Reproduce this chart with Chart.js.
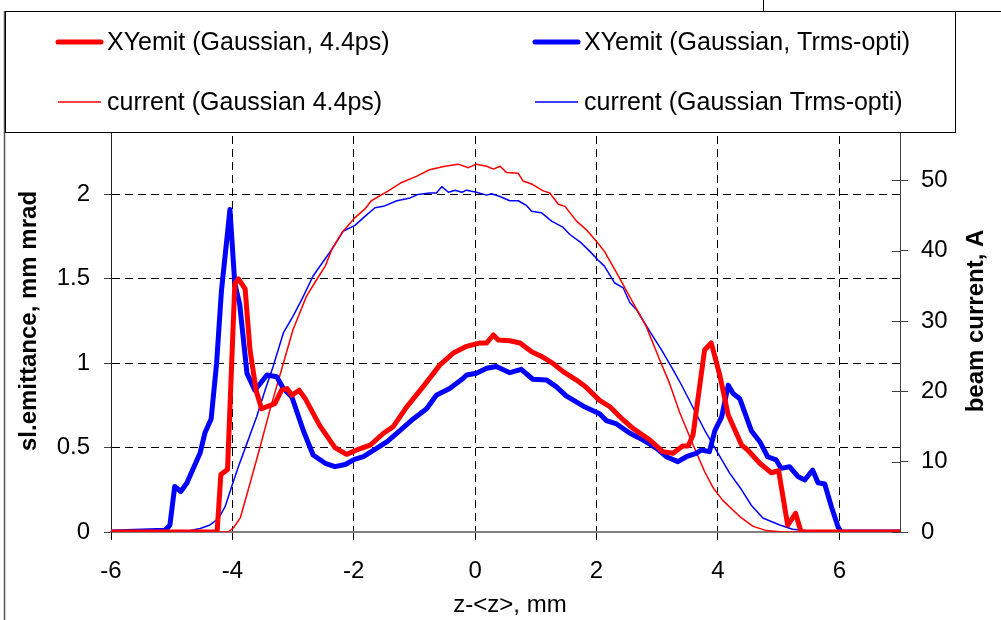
<!DOCTYPE html>
<html>
<head>
<meta charset="utf-8">
<script src="https://cdn.jsdelivr.net/npm/chart.js@4.4.0/dist/chart.umd.min.js"></script>
<style>
  html, body { margin: 0; padding: 0; background: #fff; }
  #wrap { position: relative; width: 1001px; height: 620px; }
</style>
</head>
<body>
<div id="wrap"><canvas id="emit-chart" width="1001" height="620"></canvas></div>
<script>
// slice emittance (mm mrad) vs z-<z> (mm), two laser profiles
const zEmitRed = [-6, -4.28, -4.25, -4.19, -4.08, -3.96, -3.90, -3.79, -3.71, -3.61, -3.52, -3.30, -3.19, -3.10, -3.02, -2.90, -2.80, -2.56, -2.31, -2.12, -1.95, -1.73, -1.51, -1.35, -1.13, -0.86, -0.58, -0.36, -0.14, 0.08, 0.19, 0.30, 0.38, 0.57, 0.74, 0.93, 1.12, 1.28, 1.45, 1.67, 1.83, 2.05, 2.22, 2.44, 2.60, 2.88, 3.09, 3.26, 3.42, 3.51, 3.59, 3.78, 3.89, 4.03, 4.17, 4.39, 4.49, 4.69, 4.88, 5.00, 5.15, 5.28, 5.37, 7];
const emitRed = [0, 0, 0.01, 0.34, 0.37, 1.47, 1.50, 1.44, 1.08, 0.84, 0.73, 0.76, 0.84, 0.85, 0.81, 0.84, 0.79, 0.63, 0.50, 0.46, 0.486, 0.515, 0.585, 0.624, 0.74, 0.86, 0.99, 1.06, 1.10, 1.12, 1.12, 1.167, 1.137, 1.133, 1.12, 1.068, 1.035, 0.999, 0.95, 0.90, 0.857, 0.78, 0.742, 0.664, 0.614, 0.545, 0.476, 0.466, 0.51, 0.51, 0.575, 1.078, 1.12, 0.93, 0.693, 0.515, 0.486, 0.407, 0.351, 0.363, 0.041, 0.11, 0, 0];

const zEmitBlue = [-6, -5.11, -5.03, -4.95, -4.85, -4.75, -4.53, -4.45, -4.35, -4.26, -4.18, -4.04, -3.96, -3.88, -3.76, -3.63, -3.43, -3.27, -3.16, -3.02, -2.83, -2.67, -2.47, -2.31, -2.14, -1.99, -1.84, -1.45, -1.24, -1.02, -0.80, -0.64, -0.42, -0.20, -0.14, 0.02, 0.19, 0.35, 0.57, 0.76, 0.95, 1.18, 1.34, 1.50, 1.81, 2.05, 2.16, 2.33, 2.55, 2.77, 2.99, 3.15, 3.34, 3.48, 3.64, 3.73, 3.86, 3.95, 4.06, 4.17, 4.25, 4.36, 4.55, 4.69, 4.82, 4.96, 5.04, 5.18, 5.32, 5.43, 5.56, 5.65, 5.76, 5.87, 5.98, 6.03, 7];
const emitBlue = [0, 0.01, 0.04, 0.27, 0.24, 0.29, 0.47, 0.59, 0.67, 1.0, 1.43, 1.91, 1.47, 1.35, 0.94, 0.84, 0.93, 0.92, 0.85, 0.80, 0.60, 0.456, 0.407, 0.387, 0.40, 0.43, 0.446, 0.535, 0.60, 0.67, 0.73, 0.81, 0.85, 0.91, 0.93, 0.94, 0.97, 0.98, 0.944, 0.964, 0.905, 0.90, 0.86, 0.806, 0.74, 0.70, 0.66, 0.64, 0.585, 0.545, 0.496, 0.446, 0.417, 0.446, 0.466, 0.486, 0.476, 0.60, 0.68, 0.87, 0.82, 0.79, 0.60, 0.535, 0.446, 0.427, 0.377, 0.387, 0.328, 0.308, 0.367, 0.292, 0.284, 0.15, 0.03, 0, 0];

// beam current (A)
const zCurRed = [-6, -4.07, -3.98, -3.87, -3.71, -3.54, -3.38, -3.16, -3.00, -2.78, -2.61, -2.47, -2.36, -2.20, -1.98, -1.82, -1.71, -1.43, -1.21, -0.96, -0.75, -0.50, -0.28, -0.11, 0.02, 0.19, 0.30, 0.41, 0.52, 0.71, 0.79, 0.95, 1.12, 1.23, 1.37, 1.48, 1.67, 1.83, 1.99, 2.13, 2.38, 2.60, 2.82, 3.04, 3.20, 3.37, 3.59, 3.78, 3.92, 4.08, 4.36, 4.58, 4.80, 5.07, 7];
const curRed = [0, 0, 0.6, 2.0, 6.9, 12.2, 17.4, 24.0, 28.8, 33.5, 35.9, 37.8, 40.2, 42.5, 44.7, 45.9, 47.1, 48.5, 49.7, 50.6, 51.5, 52.0, 52.3, 51.8, 52.3, 52.0, 51.6, 52.0, 51.1, 51.0, 49.9, 49.4, 48.5, 48.2, 46.6, 46.3, 44.2, 43.0, 41.4, 39.9, 36.1, 32.6, 29.2, 24.5, 21.2, 17.0, 12.4, 8.6, 6.3, 4.5, 2.2, 0.8, 0.2, 0, 0];

const zCurBlue = [-6, -4.81, -4.53, -4.37, -4.23, -4.12, -4.01, -3.90, -3.76, -3.60, -3.46, -3.33, -3.16, -3.00, -2.86, -2.67, -2.50, -2.36, -2.17, -1.98, -1.84, -1.65, -1.51, -1.29, -1.07, -0.94, -0.75, -0.64, -0.55, -0.44, -0.33, -0.22, -0.14, 0.02, 0.19, 0.27, 0.41, 0.57, 0.71, 0.85, 0.93, 1.09, 1.26, 1.45, 1.56, 1.75, 1.89, 2.02, 2.13, 2.30, 2.44, 2.55, 2.66, 2.88, 3.07, 3.26, 3.40, 3.56, 3.78, 4.00, 4.19, 4.39, 4.55, 4.74, 5.02, 5.23, 5.56, 6.00, 7];
const curBlue = [0, 0, 0.5, 1.0, 1.9, 3.6, 6.5, 9.3, 12.6, 16.4, 20.2, 23.5, 28.3, 30.7, 33.0, 36.4, 38.5, 40.2, 42.8, 43.6, 44.7, 46.1, 46.3, 47.1, 47.5, 48.0, 48.2, 48.2, 49.1, 48.3, 48.6, 48.3, 48.6, 48.3, 47.9, 48.1, 47.7, 47.1, 47.1, 46.4, 45.6, 45.4, 44.2, 43.3, 42.3, 41.1, 39.9, 38.7, 37.8, 35.4, 34.7, 32.6, 31.6, 28.5, 25.9, 23.1, 20.9, 18.2, 14.5, 11.2, 8.4, 6.0, 3.8, 2.0, 1.0, 0.4, 0.1, 0, 0];

const xTicks = [-6, -4, -2, 0, 2, 4, 6];
const yTicks = [0, 0.5, 1, 1.5, 2];
const y1Ticks = [0, 10, 20, 30, 40, 50];

const seriesLabels = [
  'XYemit (Gaussian, 4.4ps)',
  'XYemit (Gaussian, Trms-opti)',
  'current (Gaussian 4.4ps)',
  'current (Gaussian Trms-opti)'
];
const xTitle = 'z-<z>, mm';
const yTitle = 'sl.emittance, mm mrad';
const y1Title = 'beam current, A';

const RED = '#ff0000';
const BLUE = '#0000ff';
const FAMILY = 'Arial, "Liberation Sans", sans-serif';

const pts = (zs, vs) => zs.map((z, i) => ({ x: z, y: vs[i] }));
const fixTicks = list => scale => { scale.ticks = list.map(v => ({ value: v })); };

function lineSet(label, data, color, width, axis) {
  return {
    label,
    data,
    borderColor: color,
    backgroundColor: color,
    borderWidth: width,
    pointRadius: 0,
    tension: 0,
    borderJoinStyle: 'round',
    borderCapStyle: 'round',
    fill: false,
    yAxisID: axis
  };
}

// legend box, axis titles, frame lines and the inner half of the right-hand ticks
const decor = {
  id: 'decor',
  afterDraw(chart) {
    const { ctx, chartArea, scales } = chart;
    const midY = (chartArea.top + chartArea.bottom) / 2;
    ctx.save();

    // crossing ticks on the current axis
    ctx.strokeStyle = '#404040';
    ctx.lineWidth = 1;
    for (const v of y1Ticks) {
      const py = Math.round(scales.y1.getPixelForValue(v)) + 0.5;
      ctx.beginPath();
      ctx.moveTo(chartArea.right - 8, py);
      ctx.lineTo(chartArea.right, py);
      ctx.stroke();
    }

    // outer frame
    ctx.strokeStyle = '#000';
    ctx.beginPath();
    ctx.moveTo(4, 11.5); ctx.lineTo(1001, 11.5);
    ctx.moveTo(763.5, 0); ctx.lineTo(763.5, 11);
    ctx.stroke();
    ctx.strokeStyle = '#555';
    ctx.lineWidth = 1.5;
    ctx.beginPath();
    ctx.moveTo(4.5, 11); ctx.lineTo(4.5, 620);
    ctx.stroke();

    // legend
    ctx.fillStyle = '#fff';
    ctx.fillRect(5, 11, 951, 121);
    ctx.strokeStyle = '#000';
    ctx.lineWidth = 1;
    ctx.strokeRect(5.5, 11.5, 950, 121);

    const cols = [56, 533];
    const rows = [42, 102];
    const widths = [5, 5, 1.5, 1.5];
    const colors = [RED, BLUE, RED, BLUE];
    ctx.font = '25px ' + FAMILY;
    ctx.textAlign = 'left';
    ctx.textBaseline = 'middle';
    seriesLabels.forEach((label, i) => {
      const x = cols[i % 2];
      const y = rows[Math.floor(i / 2)];
      ctx.strokeStyle = colors[i];
      ctx.lineWidth = widths[i];
      ctx.lineCap = i < 2 ? 'round' : 'butt';
      ctx.beginPath();
      ctx.moveTo(x + 2, y);
      ctx.lineTo(x + 45, y);
      ctx.stroke();
      ctx.fillStyle = '#000';
      ctx.fillText(label, x + 51, y + 1);
    });

    // axis titles
    ctx.font = '24px ' + FAMILY;
    ctx.fillStyle = '#000';
    ctx.textAlign = 'center';
    ctx.textBaseline = 'middle';
    ctx.fillText(xTitle, 510, 605);

    ctx.font = 'bold 24px ' + FAMILY;
    ctx.save();
    ctx.translate(29, midY);
    ctx.rotate(-Math.PI / 2);
    ctx.fillText(yTitle, 0, 0);
    ctx.restore();

    ctx.save();
    ctx.translate(976, midY);
    ctx.rotate(-Math.PI / 2);
    ctx.fillText(y1Title, 0, 0);
    ctx.restore();

    ctx.restore();
  }
};

const tickFont = { family: FAMILY, size: 24 };
const dash = [8, 5];

new Chart(document.getElementById('emit-chart'), {
  type: 'line',
  data: {
    datasets: [
      lineSet(seriesLabels[0], pts(zEmitRed, emitRed), RED, 5, 'y'),
      lineSet(seriesLabels[1], pts(zEmitBlue, emitBlue), BLUE, 5, 'y'),
      lineSet(seriesLabels[2], pts(zCurRed, curRed), RED, 1.5, 'y1'),
      lineSet(seriesLabels[3], pts(zCurBlue, curBlue), BLUE, 1.5, 'y1')
    ]
  },
  options: {
    responsive: false,
    animation: false,
    devicePixelRatio: 1,
    layout: { padding: { left: 0, right: 0, top: 110, bottom: 0 } },
    plugins: {
      legend: { display: false },
      tooltip: { enabled: false }
    },
    scales: {
      x: {
        type: 'linear',
        min: -6,
        max: 7,
        afterBuildTicks: fixTicks(xTicks),
        afterFit: s => { s.height = 88; },
        ticks: { color: '#000', font: tickFont, padding: 17, maxRotation: 0, callback: v => String(v) },
        grid: {
          color: c => (c.tick && c.tick.value === -6 ? 'rgba(0,0,0,0)' : '#000'),
          lineWidth: 1,
          tickLength: 8,
          tickColor: '#000'
        },
        border: { color: '#808080', width: 2, dash }
      },
      y: {
        position: 'left',
        min: 0,
        max: 2.5,
        afterBuildTicks: fixTicks(yTicks),
        afterFit: s => { s.width = 111; },
        ticks: { color: '#000', font: tickFont, padding: 14, callback: v => String(v) },
        grid: {
          color: c => (c.tick && c.tick.value === 0 ? 'rgba(0,0,0,0)' : '#000'),
          lineWidth: 1,
          tickLength: 7,
          tickColor: '#404040'
        },
        border: { color: '#202020', width: 1, dash }
      },
      y1: {
        position: 'right',
        min: 0,
        max: 60,
        afterBuildTicks: fixTicks(y1Ticks),
        afterFit: s => { s.width = 101; },
        ticks: { color: '#000', font: tickFont, padding: 13, callback: v => String(v) },
        grid: { drawOnChartArea: false, tickLength: 8, tickColor: '#404040' },
        border: { color: '#404040', width: 1 }
      }
    }
  },
  plugins: [decor]
});
</script>
</body>
</html>
